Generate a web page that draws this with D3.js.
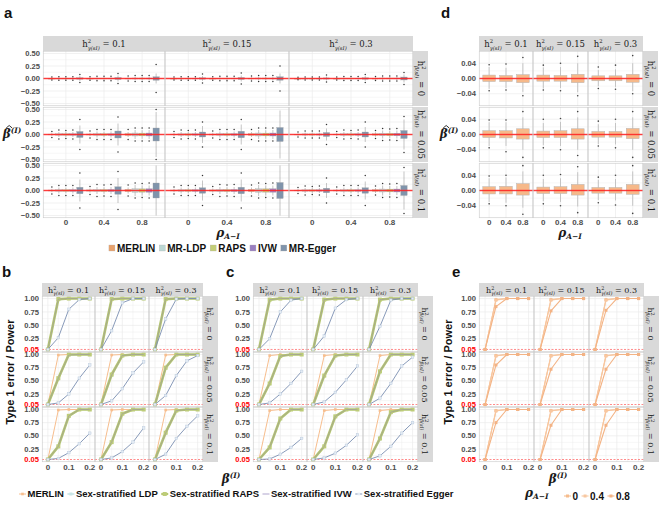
<!DOCTYPE html>
<html>
<head>
<meta charset="utf-8">
<script src="https://cdn.jsdelivr.net/npm/d3@7"></script>
<style>
  body { margin: 0; background: #fff; }
  svg { display: block; }
</style>
</head>
<body>
<script>
// ---------- data ----------
const h2Gamma = ["0.1", "0.15", "0.3"];       // column facets
const h2Beta = ["0", "0.05", "0.1"];          // row facets
const rhoLevels = ["0", "0.4", "0.8"];
const betaSteps = [0, 0.05, 0.1, 0.15, 0.2];
const methodsA = ["MERLIN", "MR-LDP", "RAPS", "IVW", "MR-Egger"];
const methodsB = ["MERLIN", "Sex-stratified LDP", "Sex-stratified RAPS", "Sex-stratified IVW", "Sex-stratified Egger"];

// panel a: [row][col][rho] -> [half IQR, half whisker, outlier extent]
const boxMerlinA = [
  [[[.004,.015,.03],[.004,.018,.035],[.006,.025,.05]], [[.004,.015,.03],[.004,.018,.035],[.006,.025,.05]], [[.003,.012,.025],[.004,.015,.03],[.005,.02,.04]]],
  [[[.008,.03,.06],[.01,.035,.07],[.018,.05,.1]], [[.008,.03,.06],[.01,.035,.07],[.018,.05,.1]], [[.007,.025,.05],[.008,.03,.06],[.015,.045,.08]]],
  [[[.01,.035,.07],[.012,.04,.08],[.022,.06,.11]], [[.01,.035,.07],[.012,.04,.08],[.022,.06,.11]], [[.008,.03,.06],[.01,.035,.07],[.018,.05,.09]]]
];
const boxLdpA = [
  [[[.006,.02,.035],[.007,.025,.045],[.01,.035,.06]], [[.006,.02,.035],[.007,.025,.045],[.01,.035,.06]], [[.005,.018,.03],[.006,.02,.04],[.009,.03,.05]]],
  [[[.015,.05,.09],[.018,.06,.1],[.03,.09,.13]], [[.015,.05,.09],[.018,.06,.1],[.03,.09,.13]], [[.012,.04,.07],[.015,.05,.09],[.025,.08,.12]]],
  [[[.018,.06,.1],[.02,.07,.12],[.035,.11,.15]], [[.018,.06,.1],[.02,.07,.12],[.035,.11,.15]], [[.015,.05,.09],[.017,.06,.1],[.03,.1,.14]]]
];
const boxRapsA = [
  [[[.006,.02,.035],[.007,.025,.045],[.01,.035,.06]], [[.006,.02,.035],[.007,.025,.045],[.01,.035,.06]], [[.005,.018,.03],[.006,.02,.04],[.009,.03,.05]]],
  [[[.014,.05,.08],[.017,.055,.1],[.028,.085,.13]], [[.014,.05,.08],[.017,.055,.1],[.028,.085,.13]], [[.012,.04,.07],[.014,.05,.08],[.024,.075,.11]]],
  [[[.017,.055,.1],[.02,.065,.11],[.033,.1,.14]], [[.017,.055,.1],[.02,.065,.11],[.033,.1,.14]], [[.014,.05,.08],[.017,.055,.1],[.028,.09,.13]]]
];
const boxIvwA = [
  [[[.006,.02,.035],[.007,.025,.045],[.01,.035,.06]], [[.006,.02,.035],[.007,.025,.045],[.01,.035,.06]], [[.005,.018,.03],[.006,.02,.04],[.009,.03,.05]]],
  [[[.015,.05,.09],[.018,.06,.1],[.03,.09,.13]], [[.015,.05,.09],[.018,.06,.1],[.03,.09,.13]], [[.012,.04,.07],[.015,.05,.09],[.025,.08,.12]]],
  [[[.018,.06,.1],[.021,.07,.12],[.035,.1,.15]], [[.018,.06,.1],[.021,.07,.12],[.035,.1,.15]], [[.015,.05,.09],[.017,.06,.1],[.03,.09,.14]]]
];
const boxEggerA = [
  [[[.015,.05,.08],[.02,.06,.1],[.035,.1,.28]], [[.015,.05,.09],[.02,.06,.11],[.035,.1,.25]], [[.012,.04,.07],[.015,.05,.08],[.03,.08,.12]]],
  [[[.06,.18,.3],[.07,.22,.35],[.13,.45,.5]], [[.05,.17,.25],[.065,.2,.3],[.14,.48,0]], [[.04,.12,.2],[.05,.15,.25],[.08,.3,.36]]],
  [[[.065,.22,.35],[.075,.25,.38],[.15,.5,0]], [[.055,.2,.3],[.065,.22,.35],[.16,.5,0]], [[.045,.15,.25],[.055,.18,.3],[.1,.38,.46]]]
];

// panel d: [row][col][rho] -> [q1, q3, whisker lo, whisker hi, outlier lo, outlier hi]
const boxMerlinD = [
  [[[-.008,.009,-.027,.03,-.032,.036],[-.008,.008,-.025,.028,-.03,.038],[-.011,.01,-.035,.04,-.045,.055]],
   [[-.007,.009,-.026,.029,-.03,.035],[-.007,.008,-.025,.03,-.032,.04],[-.011,.011,-.036,.04,-.045,.058]],
   [[-.006,.007,-.02,.022,-.026,.03],[-.006,.007,-.022,.024,-.028,.035],[-.01,.011,-.033,.04,-.04,.06]]],
  [[[-.008,.01,-.03,.032,-.035,.038],[-.009,.01,-.03,.032,-.045,.038],[-.012,.015,-.04,.045,-.06,.06]],
   [[-.008,.009,-.028,.03,-.035,.04],[-.008,.01,-.03,.033,-.04,.042],[-.012,.015,-.04,.045,-.055,.06]],
   [[-.007,.008,-.025,.027,-.03,.035],[-.007,.008,-.026,.03,-.035,.04],[-.011,.016,-.04,.045,-.06,.06]]],
  [[[-.009,.01,-.03,.032,-.035,.038],[-.009,.011,-.032,.034,-.04,.04],[-.012,.018,-.045,.05,-.062,.065]],
   [[-.008,.009,-.028,.03,-.035,.04],[-.008,.01,-.03,.032,-.04,.042],[-.012,.016,-.042,.048,-.058,.062]],
   [[-.007,.008,-.025,.028,-.032,.035],[-.007,.008,-.026,.03,-.038,.04],[-.01,.016,-.04,.05,-.06,.065]]]
];

// panels b and c: [row][col] -> rejection rate at each beta step
const merlinB = [
  [[.05,1,1,1,1],[.05,1,1,1,1],[.05,1,1,1,1]],
  [[.05,.99,1,1,1],[.05,.99,1,1,1],[.05,.99,1,1,1]],
  [[.05,.99,1,1,1],[.05,.99,1,1,1],[.05,.99,1,1,1]]
];
const ldpB = [
  [[.05,.98,1,1,1],[.05,.99,1,1,1],[.05,.99,1,1,1]],
  [[.05,.53,.99,1,1],[.05,.6,.98,1,1],[.05,.74,1,1,1]],
  [[.05,.29,.87,1,1],[.05,.37,.92,1,1],[.05,.55,.98,1,1]]
];
const rapsB = [
  [[.05,.99,1,1,1],[.05,.99,1,1,1],[.05,.99,1,1,1]],
  [[.05,.55,1,1,1],[.05,.62,.98,1,1],[.05,.75,1,1,1]],
  [[.05,.3,.88,1,1],[.05,.38,.92,1,1],[.05,.56,.98,1,1]]
];
const ivwB = [
  [[.05,.99,1,1,1],[.05,.99,1,1,1],[.05,.99,1,1,1]],
  [[.05,.55,.99,1,1],[.05,.61,.98,1,1],[.05,.75,1,1,1]],
  [[.05,.3,.88,1,1],[.05,.38,.92,1,1],[.05,.55,.98,1,1]]
];
const eggerB = [
  [[.05,.27,.8,.98,1],[.05,.4,.92,1,1],[.05,.62,.99,1,1]],
  [[.05,.08,.25,.55,.8],[.05,.12,.35,.65,.86],[.05,.22,.6,.88,.98]],
  [[.05,.07,.18,.35,.55],[.05,.08,.2,.38,.65],[.05,.15,.45,.68,.88]]
];

const merlinC = [
  [[.05,.98,1,1,1],[.05,.98,1,1,1],[.05,.98,1,1,1]],
  [[.05,.98,1,1,1],[.05,.98,1,1,1],[.05,.98,1,1,1]],
  [[.05,.98,1,1,1],[.05,.98,1,1,1],[.05,.98,1,1,1]]
];
const ldpC = [
  [[.05,.97,1,1,1],[.05,.98,1,1,1],[.05,.98,1,1,1]],
  [[.05,.44,.97,1,1],[.05,.59,.98,1,1],[.05,.67,1,1,1]],
  [[.05,.27,.82,1,1],[.05,.3,.86,1,1],[.05,.44,.95,1,1]]
];
const rapsC = [
  [[.05,.98,1,1,1],[.05,.98,1,1,1],[.05,.98,1,1,1]],
  [[.05,.45,.97,1,1],[.05,.6,.98,1,1],[.05,.68,1,1,1]],
  [[.05,.28,.83,1,1],[.05,.3,.87,1,1],[.05,.45,.95,1,1]]
];
const ivwC = [
  [[.05,.98,1,1,1],[.05,.98,1,1,1],[.05,.98,1,1,1]],
  [[.05,.45,.97,1,1],[.05,.6,.98,1,1],[.05,.68,1,1,1]],
  [[.05,.28,.83,1,1],[.05,.3,.87,1,1],[.05,.45,.95,1,1]]
];
const eggerC = [
  [[.05,.25,.75,.97,1],[.05,.3,.82,.98,1],[.05,.48,.97,1,1]],
  [[.05,.08,.25,.45,.68],[.05,.1,.28,.52,.78],[.05,.17,.45,.78,.95]],
  [[.05,.06,.15,.28,.45],[.05,.08,.17,.32,.52],[.05,.12,.3,.55,.75]]
];

// panel e: MERLIN power by rho_{A-I}
const powerRho0 = [
  [[.05,.98,1,1,1],[.05,.98,1,1,1],[.05,.98,1,1,1]],
  [[.05,.98,1,1,1],[.05,.98,1,1,1],[.05,.98,1,1,1]],
  [[.05,.98,1,1,1],[.05,.98,1,1,1],[.05,.98,1,1,1]]
];
const powerRho04 = [
  [[.05,.97,1,1,1],[.05,.97,1,1,1],[.05,.97,1,1,1]],
  [[.05,.97,1,1,1],[.05,.97,1,1,1],[.05,.97,1,1,1]],
  [[.05,.97,1,1,1],[.05,.97,1,1,1],[.05,.97,1,1,1]]
];
const powerRho08 = [
  [[.05,.85,1,1,1],[.05,.77,1,1,1],[.05,.78,1,1,1]],
  [[.05,.8,1,1,1],[.05,.72,1,1,1],[.05,.72,1,1,1]],
  [[.05,.75,1,1,1],[.05,.7,1,1,1],[.05,.7,1,1,1]]
];

const boxTicksA = [-0.5, -0.25, 0, 0.25, 0.5];
const boxTicksD = [-0.04, 0, 0.04];
const powerTicks = [0.05, 0.25, 0.5, 0.75, 1];
const betaTicks = [0, 0.1, 0.2];

// ---------- styles ----------
const colA = { "MERLIN": "#E9A26C", "MR-LDP": "#BCD8D4", "RAPS": "#C4CE76", "IVW": "#9A7FC1", "MR-Egger": "#8094AB" };
const SERIF = "'DejaVu Serif', 'Liberation Serif', serif";
const TICK = "#4D4D4D";
const STRIP = "#D9D9D9";
const GRID = "#EBEBEB";
const BORDER = "#C9C9C9";
const TICKFS = 7.6;

const svg = d3.select("body").append("svg")
  .attr("width", 662).attr("height", 505)
  .style("font-family", "'Liberation Sans', Arial, sans-serif");

// strip label  h^2_{sym} = value
function mathLabel(t, sym, value, size) {
  t.append("tspan").text("h");
  t.append("tspan").text("2").attr("font-size", size * 0.62).attr("dy", -size * 0.42);
  t.append("tspan").text(sym).attr("font-size", size * 0.62).attr("font-style", "italic")
    .attr("dx", -size * 0.4).attr("dy", size * 0.72);
  t.append("tspan").text(" = " + value).attr("dy", -size * 0.3);
}

function facet(spec) {
  const g = svg.append("g");
  const panels = [];
  spec.rows.forEach((ry, r) => spec.cols.forEach((cx, c) => {
    panels.push({ r, c, x0: cx[0], x1: cx[1], y0: ry[0], y1: ry[1] });
  }));
  spec.cols.forEach((cx, c) => {
    g.append("rect").attr("x", cx[0]).attr("y", spec.strip[0])
      .attr("width", cx[1] - cx[0]).attr("height", spec.strip[1] - spec.strip[0]).attr("fill", STRIP);
    const t = g.append("text").attr("x", (cx[0] + cx[1]) / 2).attr("y", spec.strip[1] - spec.stripPad)
      .attr("text-anchor", "middle").attr("font-family", SERIF).attr("font-size", spec.fs).attr("fill", "#1A1A1A");
    mathLabel(t, "γ(sI)", h2Gamma[c], spec.fs);
  });
  spec.rows.forEach((ry, r) => {
    g.append("rect").attr("x", spec.right[0]).attr("y", ry[0])
      .attr("width", spec.right[1] - spec.right[0]).attr("height", ry[1] - ry[0]).attr("fill", STRIP);
    const cx = spec.right[0] + spec.stripPad + 1, cy = (ry[0] + ry[1]) / 2;
    const t = g.append("text").attr("transform", `translate(${cx},${cy}) rotate(90)`)
      .attr("text-anchor", "middle").attr("font-family", SERIF).attr("font-size", spec.fs).attr("fill", "#1A1A1A");
    mathLabel(t, "β(sI)", h2Beta[r], spec.fs);
  });
  panels.forEach(p => {
    g.append("rect").attr("x", p.x0).attr("y", p.y0).attr("width", p.x1 - p.x0).attr("height", p.y1 - p.y0)
      .attr("fill", "#fff");
  });
  return { g, panels };
}

function border(g, p) {
  g.append("rect").attr("x", p.x0 + 0.25).attr("y", p.y0 + 0.25)
    .attr("width", p.x1 - p.x0 - 0.5).attr("height", p.y1 - p.y0 - 0.5)
    .attr("fill", "none").attr("stroke", BORDER).attr("stroke-width", 0.6);
}

function hgrid(g, p, y, ticks) {
  const minor = d3.pairs(ticks).map(d => (d[0] + d[1]) / 2);
  g.selectAll(null).data(minor).join("line").attr("x1", p.x0).attr("x2", p.x1)
    .attr("y1", d => y(d)).attr("y2", d => y(d)).attr("stroke", GRID).attr("stroke-width", 0.4);
  g.selectAll(null).data(ticks).join("line").attr("x1", p.x0).attr("x2", p.x1)
    .attr("y1", d => y(d)).attr("y2", d => y(d)).attr("stroke", GRID).attr("stroke-width", 0.7);
}

function yTickLabels(p, y, ticks, fmt, xPos, redFirst) {
  svg.append("g").selectAll(null).data(ticks).join("text")
    .attr("x", xPos).attr("y", d => y(d)).attr("dy", "0.35em").attr("text-anchor", "end")
    .attr("font-size", TICKFS).attr("font-weight", "bold")
    .attr("fill", (d, i) => redFirst && i === 0 ? "#FF0000" : TICK)
    .text(fmt);
}

function xTickLabels(list, yPos) {
  svg.append("g").selectAll(null).data(list).join("text")
    .attr("x", d => d.x).attr("y", yPos).attr("text-anchor", "middle")
    .attr("font-size", TICKFS + 0.4).attr("font-weight", "bold").attr("fill", TICK).text(d => d.t);
}

function zeroLine(g, p, y) {
  g.append("line").attr("x1", p.x0).attr("x2", p.x1).attr("y1", y(0)).attr("y2", y(0))
    .attr("stroke", "#FF3B3B").attr("stroke-width", 2.4).attr("opacity", 0.3);
  g.append("line").attr("x1", p.x0).attr("x2", p.x1).attr("y1", y(0)).attr("y2", y(0))
    .attr("stroke", "#FF1F1F").attr("stroke-width", 0.9).attr("opacity", 0.9);
}

// ---------- panel a ----------
const specA = {
  cols: [[43, 165], [165, 289], [289, 413]], rows: [[51, 106], [107, 162], [163, 218]],
  strip: [36, 51], right: [413, 428], stripPad: 4, fs: 8.5
};
const fa = facet(specA);
const boxSetsA = { "MERLIN": boxMerlinA, "MR-LDP": boxLdpA, "RAPS": boxRapsA, "IVW": boxIvwA, "MR-Egger": boxEggerA };
const xTicksA = [];
fa.panels.forEach(p => {
  const x = d3.scalePoint().domain(rhoLevels).range([p.x0, p.x1]).padding(0.6);
  const y = d3.scaleLinear().domain([-0.55, 0.55]).range([p.y1, p.y0]);
  const step = x.step();
  const dodge = d3.scaleBand().domain(methodsA).range([-0.45 * step, 0.45 * step]).paddingInner(0.1);
  const g = fa.g.append("g");
  hgrid(g, p, y, boxTicksA);
  g.selectAll(null).data(rhoLevels).join("line").attr("x1", d => x(d)).attr("x2", d => x(d))
    .attr("y1", p.y0).attr("y2", p.y1).attr("stroke", GRID).attr("stroke-width", 0.7);
  rhoLevels.forEach((rho, k) => {
    methodsA.forEach(m => {
      const [iqr, wh, out] = boxSetsA[m][p.r][p.c][k];
      const bx = x(rho) + dodge(m), bw = dodge.bandwidth(), cx = bx + bw / 2;
      g.append("line").attr("x1", cx).attr("x2", cx).attr("y1", y(-wh)).attr("y2", y(wh))
        .attr("stroke", "#8A8A8A").attr("stroke-width", 0.5);
      g.append("rect").attr("x", bx).attr("width", bw).attr("y", y(iqr)).attr("height", Math.max(0.8, y(-iqr) - y(iqr)))
        .attr("fill", colA[m]).attr("stroke", "#A0A0A0").attr("stroke-width", 0.3);
      if (out > 0) {
        [out, -out].forEach(o => g.append("circle").attr("cx", cx).attr("cy", y(o)).attr("r", 0.75).attr("fill", "#333"));
      }
    });
  });
  zeroLine(g, p, y);
  border(g, p);
  if (p.c === 0) yTickLabels(p, y, boxTicksA, d3.format(".2f"), p.x0 - 3, false);
  if (p.r === 2) rhoLevels.forEach(rho => xTicksA.push({ x: x(rho), t: rho }));
});
xTickLabels(xTicksA, 225);

// ---------- panel d ----------
const specD = {
  cols: [[479, 533], [533, 588], [588, 643]], rows: [[51, 106], [107, 162], [163, 218]],
  strip: [36, 51], right: [643, 658], stripPad: 4, fs: 8.5
};
const fd = facet(specD);
const xTicksD = [];
fd.panels.forEach(p => {
  const x = d3.scalePoint().domain(rhoLevels).range([p.x0, p.x1]).padding(0.6);
  const y = d3.scaleLinear().domain([-0.072, 0.072]).range([p.y1, p.y0]);
  const bw = x.step() * 0.75;
  const g = fd.g.append("g");
  hgrid(g, p, y, [-0.08, -0.04, 0, 0.04, 0.08].filter(v => Math.abs(v) < 0.072));
  g.selectAll(null).data(rhoLevels).join("line").attr("x1", d => x(d)).attr("x2", d => x(d))
    .attr("y1", p.y0).attr("y2", p.y1).attr("stroke", GRID).attr("stroke-width", 0.7);
  rhoLevels.forEach((rho, k) => {
    const [q1, q3, wl, whh, ol, oh] = boxMerlinD[p.r][p.c][k];
    const cx = x(rho);
    g.append("line").attr("x1", cx).attr("x2", cx).attr("y1", y(wl)).attr("y2", y(whh))
      .attr("stroke", "#A6A6A6").attr("stroke-width", 0.6);
    g.append("rect").attr("x", cx - bw / 2).attr("width", bw).attr("y", y(q3)).attr("height", y(q1) - y(q3))
      .attr("fill", "#F6B98A").attr("stroke", "#B5B5B5").attr("stroke-width", 0.5);
    [ol, oh].forEach(o => g.append("circle").attr("cx", cx).attr("cy", y(o)).attr("r", 0.8).attr("fill", "#444"));
  });
  zeroLine(g, p, y);
  border(g, p);
  if (p.c === 0) yTickLabels(p, y, boxTicksD, d3.format(".2f"), p.x0 - 3, false);
  if (p.r === 2) rhoLevels.forEach(rho => xTicksD.push({ x: x(rho), t: rho }));
});
xTickLabels(xTicksD, 225);

// ---------- line panels ----------
function powerPanels(spec, seriesDefs) {
  const f = facet(spec);
  const ticks = [];
  f.panels.forEach(p => {
    const x = d3.scaleLinear().domain([-0.028, 0.225]).range([p.x0, p.x1]);
    const y = d3.scaleLinear().domain([0.0025, 1.0475]).range([p.y1, p.y0]);
    const g = f.g.append("g");
    [0.125, 0.375, 0.625, 0.875].forEach(v => g.append("line").attr("x1", p.x0).attr("x2", p.x1)
      .attr("y1", y(v)).attr("y2", y(v)).attr("stroke", GRID).attr("stroke-width", 0.4));
    [0.25, 0.5, 0.75, 1].forEach(v => g.append("line").attr("x1", p.x0).attr("x2", p.x1)
      .attr("y1", y(v)).attr("y2", y(v)).attr("stroke", GRID).attr("stroke-width", 0.7));
    [0.05, 0.15].forEach(v => g.append("line").attr("x1", x(v)).attr("x2", x(v))
      .attr("y1", p.y0).attr("y2", p.y1).attr("stroke", GRID).attr("stroke-width", 0.4));
    betaTicks.forEach(v => g.append("line").attr("x1", x(v)).attr("x2", x(v))
      .attr("y1", p.y0).attr("y2", p.y1).attr("stroke", GRID).attr("stroke-width", 0.7));
    g.append("line").attr("x1", p.x0).attr("x2", p.x1).attr("y1", y(0.05)).attr("y2", y(0.05))
      .attr("stroke", "#FF5A5A").attr("stroke-width", 0.7).attr("stroke-dasharray", "2,1.5");
    const line = d3.line().x((d, i) => x(betaSteps[i])).y(d => y(d));
    seriesDefs.forEach(s => {
      const vals = s.data[p.r][p.c];
      g.append("path").attr("d", line(vals)).attr("fill", "none").attr("stroke", s.color)
        .attr("stroke-width", s.width).attr("opacity", s.opacity || 1).attr("stroke-linejoin", "round");
      if (s.pt) {
        g.selectAll(null).data(vals).join("rect")
          .attr("x", (d, i) => x(betaSteps[i]) - s.pt / 2).attr("y", d => y(d) - s.pt / 2)
          .attr("width", s.pt).attr("height", s.pt).attr("fill", s.ptFill || s.color)
          .attr("stroke", s.ptStroke || "none").attr("stroke-width", 0.4);
      }
    });
    border(g, p);
    if (p.c === 0) yTickLabels(p, y, powerTicks, d3.format(".2f"), p.x0 - 3, true);
    if (p.r === 2) betaTicks.forEach(v => ticks.push({ x: x(v), t: v === 0 ? "0" : String(v) }));
  });
  xTickLabels(ticks, 470);
}

const lineStyles = [
  { color: "#F7BE8E", width: 1, pt: 2.6 },
  { color: "#C8E5E6", width: 1.6, pt: 3 },
  { color: "#B6C76F", width: 2.6, pt: 4, ptFill: "#BDCC78" },
  { color: "#8E80B8", width: 0.7, opacity: 0.6 },
  { color: "#7B8EB1", width: 0.9, pt: 2.6, ptFill: "#E3EBF4", ptStroke: "#B5C6DA" }
];
const rowsBC = [[296, 352], [352, 407], [407, 462]];
powerPanels({ cols: [[42, 95], [95, 149], [149, 203]], rows: rowsBC, strip: [283, 296], right: [203, 218], stripPad: 3, fs: 8 },
  [merlinB, ldpB, rapsB, ivwB, eggerB].map((d, i) => Object.assign({ data: d }, lineStyles[i])));
powerPanels({ cols: [[253, 307], [307, 363], [363, 418]], rows: rowsBC, strip: [283, 296], right: [418, 433], stripPad: 3, fs: 8 },
  [merlinC, ldpC, rapsC, ivwC, eggerC].map((d, i) => Object.assign({ data: d }, lineStyles[i])));

const rhoStyles = [
  { color: "#F6BC8C", width: 1.1, pt: 3 },
  { color: "#F8C7A0", width: 1.1, pt: 3 },
  { color: "#F3B385", width: 1.1, pt: 3 }
];
powerPanels({ cols: [[479, 534], [534, 589], [589, 644]], rows: rowsBC, strip: [283, 296], right: [644, 659], stripPad: 3, fs: 8 },
  [powerRho0, powerRho04, powerRho08].map((d, i) => Object.assign({ data: d }, rhoStyles[i])));

// ---------- titles ----------
[["a", 4, 18], ["d", 441, 18], ["b", 2, 277], ["c", 226, 277], ["e", 452, 277]].forEach(([t, x, y]) =>
  svg.append("text").attr("x", x).attr("y", y).attr("font-size", 15).attr("font-weight", "bold").attr("fill", "#111").text(t));

function betaHat(x, y) {
  const t = svg.append("text").attr("x", x).attr("y", y).attr("text-anchor", "middle")
    .attr("font-family", SERIF).attr("font-weight", "bold").attr("font-style", "italic").attr("fill", "#1A1A1A");
  t.append("tspan").attr("font-size", 12).text("β");
  t.append("tspan").attr("font-size", 7.5).attr("dy", -5).text("(I)");
  // hat over the beta
  const bx = x - 3.2;
  svg.append("path").attr("d", `M${bx - 2.6},${y - 10} L${bx + 0.4},${y - 12.5} L${bx + 3.4},${y - 10}`)
    .attr("fill", "none").attr("stroke", "#1A1A1A").attr("stroke-width", 0.9);
}
betaHat(12, 138);
betaHat(449, 138);

function rhoTitle(x, y, anchor) {
  const t = svg.append("text").attr("x", x).attr("y", y).attr("text-anchor", anchor)
    .attr("font-family", SERIF).attr("font-weight", "bold").attr("font-style", "italic").attr("fill", "#1A1A1A");
  t.append("tspan").attr("font-size", 12).text("ρ");
  t.append("tspan").attr("font-size", 7.5).attr("dy", 2).text("A−I");
  return t;
}
rhoTitle(228, 237, "middle");
rhoTitle(570, 237, "middle");

function betaTitle(x, y) {
  const t = svg.append("text").attr("x", x).attr("y", y).attr("text-anchor", "middle")
    .attr("font-family", SERIF).attr("font-weight", "bold").attr("font-style", "italic").attr("fill", "#1A1A1A");
  t.append("tspan").attr("font-size", 12).text("β");
  t.append("tspan").attr("font-size", 7.5).attr("dy", -5).text("(I)");
}
betaTitle(231, 483);
betaTitle(558, 483);

[[14, 372], [452, 372]].forEach(([x, y]) =>
  svg.append("text").attr("transform", `translate(${x},${y}) rotate(-90)`).attr("text-anchor", "middle")
    .attr("font-size", 11).attr("font-weight", "bold").attr("fill", "#111").text("Type 1 error / Power"));

// ---------- legends ----------
function legend(items, x, y, size, centered) {
  const g = svg.append("g").attr("font-size", size).attr("font-weight", "bold").attr("fill", "#111");
  let cx = 0;
  items.forEach(it => {
    it.key(g.append("g").attr("transform", `translate(${cx},${y})`));
    cx += it.keyW + 1.5;
    const t = g.append("text").attr("x", cx).attr("y", y).attr("dy", "0.35em").text(it.label);
    cx += t.node().getComputedTextLength() + 3.5;
  });
  g.attr("transform", `translate(${centered ? x - cx / 2 : x},0)`);
}
const squareKey = c => kg => kg.append("rect").attr("x", 0.5).attr("y", -3).attr("width", 6).attr("height", 6)
  .attr("fill", c).attr("stroke", "#B0B0B0").attr("stroke-width", 0.3);
legend(methodsA.map(m => ({ label: m, keyW: 7, key: squareKey(colA[m]) })), 224, 248, 10, true);

const lineKey = s => kg => {
  kg.append("line").attr("x1", 0).attr("x2", 7).attr("stroke", s.color).attr("stroke-width", Math.min(s.width, 2.2));
  if (s.pt) kg.append("rect").attr("x", 3.5 - s.pt / 2).attr("y", -s.pt / 2).attr("width", s.pt).attr("height", s.pt)
    .attr("fill", s.ptFill || s.color);
};
legend(methodsB.map((m, i) => ({ label: m, keyW: 7, key: lineKey(lineStyles[i]) })), 238, 494, 9.5, true);

rhoTitle(525, 497, "start");
legend(rhoLevels.map((r, i) => ({ label: r, keyW: 7, key: lineKey(rhoStyles[i]) })), 564, 496, 10, false);
</script>
</body>
</html>
